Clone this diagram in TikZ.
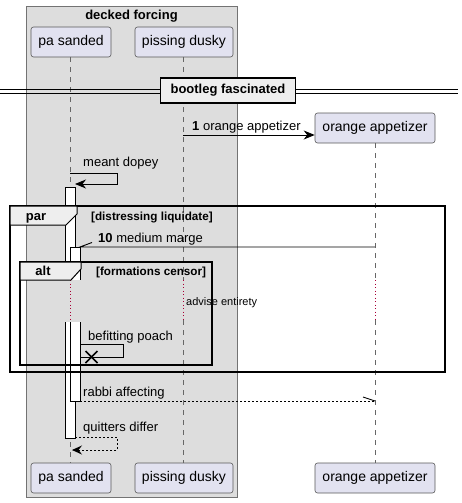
\documentclass[tikz,border=0pt]{standalone}
\usepackage{fontspec}
\setmainfont{Liberation Sans}
\usetikzlibrary{arrows.meta}
\definecolor{partfill}{HTML}{E2E2F0}
\definecolor{boxfill}{HTML}{DDDDDD}
\definecolor{tabfill}{HTML}{EEEEEE}
\definecolor{dotred}{HTML}{A80036}
\begin{document}
\begin{tikzpicture}[x=1pt,y=-1pt,
  part/.style={draw=black!65, fill=partfill, rounded corners=2.5pt, line width=0.6pt,
    minimum height=30pt, inner sep=0pt, font=\fontsize{14}{16}\selectfont},
  life/.style={draw=black!60, line width=0.6pt, dash pattern=on 5pt off 5pt},
  delayline/.style={draw=dotred, line width=1pt, dash pattern=on 1pt off 2.5pt},
  msg/.style={draw=black, line width=0.9pt},
  rmsg/.style={draw=black, line width=0.9pt, dash pattern=on 2pt off 2pt},
  tip/.style={-{Stealth[length=11pt,width=9pt,inset=3.5pt]}},
  lbl/.style={inner sep=0pt, anchor=base west, font=\fontsize{13}{15}\selectfont},
  hdr/.style={inner sep=0pt, anchor=base west, font=\fontsize{11.7}{13}\selectfont\bfseries},
  framebox/.style={draw=black, line width=1.6pt},
  tabshape/.style={draw=black, line width=1pt, fill=tabfill},
  actbar/.style={fill=white, draw=none},
  actside/.style={draw=black, line width=0.8pt}
]
\useasboundingbox (0,0) rectangle (461,503);

% participant group box
\draw[draw=black!55, fill=boxfill, line width=0.8pt] (26,6) rectangle (237,497);
\node[inner sep=0pt, anchor=base, font=\fontsize{13}{15}\selectfont\bfseries] (grp) at (131.5,19.5) {decked forcing};

% participants
\node[part, minimum width=80pt] (pa) at (71,42) {pa sanded};
\node[part, minimum width=98pt] (pd) at (184,42) {pissing dusky};
\node[part, minimum width=120pt] (oa) at (375,128) {orange appetizer};
\node[part, minimum width=80pt] (pab) at (71,478) {pa sanded};
\node[part, minimum width=98pt] (pdb) at (184,478) {pissing dusky};
\node[part, minimum width=120pt] (oab) at (375,478) {orange appetizer};

% lifeline coordinates
\coordinate (paD1) at (70,280); \coordinate (paD2) at (70,322);
\coordinate (pdD1) at (183,280); \coordinate (pdD2) at (183,320);
\coordinate (oaD1) at (375,280); \coordinate (oaD2) at (375,320);

\draw[life] (70,57) -- (paD1);
\draw[delayline] (paD1) -- (paD2);
\draw[life] (paD2) -- (70,463);
\draw[life] (183,57) -- (pdD1);
\draw[delayline] (pdD1) -- (pdD2);
\draw[life] (pdD2) -- (183,463);
\draw[life] (375,143) -- (oaD1);
\draw[delayline] (oaD1) -- (oaD2);
\draw[life] (oaD2) -- (375,463);

% divider
\draw[line width=1pt] (0,89.5) -- (458,89.5);
\draw[line width=1pt] (0,93) -- (458,93);
\node[draw=black, line width=1.6pt, fill=tabfill, minimum width=135pt, minimum height=25pt,
  inner sep=0pt, font=\fontsize{13}{15}\selectfont\bfseries] (div) at (228,90.5) {bootleg fascinated};

% message 1
\coordinate (m1s) at (183,135);
\draw[msg, tip] (m1s) -- (oa.west |- m1s);
\node[lbl] (m1l) at (192,130.5) {\textbf{1} orange appetizer};

% meant dopey self message
\coordinate (md0) at (70,173);
\coordinate (md1) at (117,173);
\coordinate (md2) at (117,184);
\coordinate (md3) at (75,184);
\draw[msg, tip] (md0) -- (md1) -- (md2) -- (md3);
\node[lbl] (mdl) at (83,166.5) {meant dopey};

% activation bar 1: x 65-75, y 187-438 (broken 280-322)
\fill[actbar] (65,187) rectangle (75,280);
\fill[actbar] (65,322) rectangle (75,438);
\draw[actside] (65,280) -- (65,187) -- (75,187) -- (75,280);
\draw[actside] (65,322) -- (65,438) -- (75,438) -- (75,322);

% activation bar 2: x 70-80, y 247-401
\fill[actbar] (70,247) rectangle (80,280);
\fill[actbar] (70,322) rectangle (80,401);
\draw[actside] (70,280) -- (70,247) -- (80,247) -- (80,280);
\draw[actside] (70,322) -- (70,401) -- (80,401) -- (80,322);

% par frame
\draw[framebox] (10,206) rectangle (445,372);
\draw[tabshape] (10,206) -- (77,206) -- (77,214) -- (66,225) -- (10,225) -- cycle;
\node[inner sep=0pt, anchor=base, font=\fontsize{13}{15}\selectfont\bfseries] (parl) at (36,220.5) {par};
\node[hdr] (parc) at (91,220) {[distressing liquidate]};

% message 10
\coordinate (m10s) at (375,247);
\coordinate (m10e) at (80,247);
\draw[msg] (m10s) -- (m10e) -- (92,242.5);
\node[lbl] (m10l) at (98,242.5) {\textbf{10} medium marge};

% alt frame
\draw[framebox] (20,262) rectangle (212,365);
\draw[tabshape] (20,262) -- (81,262) -- (81,269) -- (71,280) -- (20,280) -- cycle;
\node[inner sep=0pt, anchor=base, font=\fontsize{13}{15}\selectfont\bfseries] (altl) at (43,275.5) {alt};
\node[hdr] (altc) at (96,275) {[formations censor]};

% delay text
\node[inner sep=0pt, anchor=base west, font=\fontsize{11}{13}\selectfont] (dl) at (186,305.5) {advise entirety};

% befitting poach self message with destroy
\coordinate (bp0) at (80,344);
\coordinate (bp1) at (123,344);
\coordinate (bp2) at (123,357);
\coordinate (bp3) at (80,357);
\draw[msg] (bp0) -- (bp1) -- (bp2) -- (bp3);
\draw[line width=1.6pt] (85.5,351) -- (97.5,363) (85.5,363) -- (97.5,351);
\node[lbl] (bpl) at (88,340.5) {befitting poach};

% rabbi affecting
\coordinate (ra0) at (80,401);
\coordinate (ra1) at (375,401);
\draw[rmsg] (ra0) -- (ra1);
\draw[msg] (ra1) -- (363,397);
\node[lbl] (ral) at (83,396.5) {rabbi affecting};

% quitters differ
\coordinate (qd0) at (75,437);
\coordinate (qd1) at (117,437);
\coordinate (qd2) at (117,450);
\coordinate (qd3) at (72,450);
\draw[rmsg] (qd0) -- (qd1) -- (qd2) -- (qd3);
\draw[msg, -{Stealth[length=10pt,width=9pt,inset=3.5pt]}] (80,450) -- (qd3);
\node[lbl] (qdl) at (83,431) {quitters differ};
\end{tikzpicture}
\end{document}
